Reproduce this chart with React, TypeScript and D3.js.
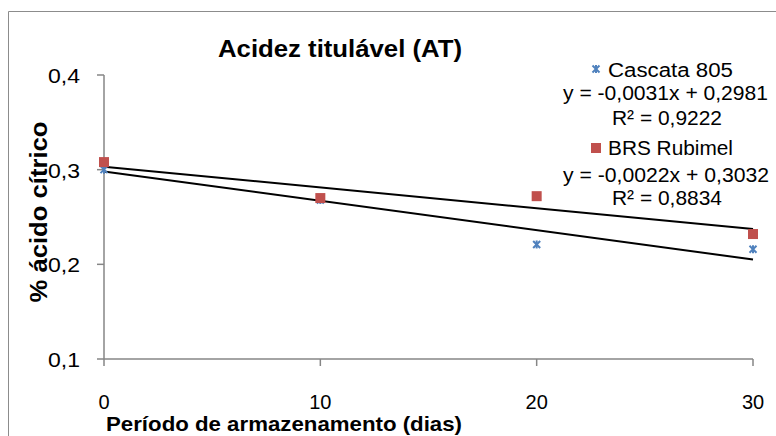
import React from 'react';
import * as d3 from 'd3';

// storage days and measured acidity (% citric acid)
const days = [0, 10, 20, 30];
const cascata = [0.300, 0.268, 0.221, 0.216];
const rubimel = [0.308, 0.270, 0.272, 0.232];

// linear trendlines as printed in the legend
const trendSlopes = [-0.0031, -0.0022];
const trendIntercepts = [0.2981, 0.3032];
const seriesNames = ['Cascata 805', 'BRS Rubimel'];
const equations = ['y = -0,0031x + 0,2981', 'y = -0,0022x + 0,3032'];
const r2Labels = ['R² = 0,9222', 'R² = 0,8834'];

const yTicks = [0.1, 0.2, 0.3, 0.4];
const xTicks = [0, 10, 20, 30];

const W = 776;
const H = 436;
const FONT = '"Liberation Sans", Arial, sans-serif';
const AXIS = '#868686';
const BLUE = '#4F81BD';
const RED = '#C0504D';

const x = d3.scaleLinear().domain([0, 30]).range([104, 753]);
const y = d3.scaleLinear().domain([0.1, 0.4]).range([359, 75]);
const fmt = (v: number) => String(v).replace('.', ',');

const Star = ({ cx, cy }: { cx: number; cy: number }) => (
  <g stroke={BLUE} strokeWidth={2}>
    <line x1={cx - 3.5} y1={cy - 3.5} x2={cx + 3.5} y2={cy + 3.5} />
    <line x1={cx - 3.5} y1={cy + 3.5} x2={cx + 3.5} y2={cy - 3.5} />
    <line x1={cx} y1={cy - 4} x2={cx} y2={cy + 4} />
  </g>
);

const Square = ({ cx, cy }: { cx: number; cy: number }) => (
  <rect x={cx - 5} y={cy - 5} width={10} height={10} fill={RED} />
);

export default function App() {
  const trend = (i: number) =>
    d3.line<number>()
      .x((d) => x(d))
      .y((d) => y(trendSlopes[i] * d + trendIntercepts[i]))([0, 30]) || '';

  return (
    <svg width={W} height={H} style={{ position: 'absolute', left: 0, top: 0 }} fontFamily={FONT}>
      <rect x={0} y={0} width={W} height={H} fill="#fff" />
      {/* chart area border, cropped on the right and bottom */}
      <path d={`M8.5,${H} V11.5 H${W}`} fill="none" stroke="#8c8c8c" strokeWidth={1} />

      <text x={340} y={57} textAnchor="middle" fontSize={24} fontWeight="bold" textLength={244} lengthAdjust="spacingAndGlyphs">
        Acidez titulável (AT)
      </text>

      {/* axes */}
      <g stroke={AXIS} strokeWidth={1.5} fill="none">
        <line x1={x(0)} y1={y(0.4)} x2={x(0)} y2={y(0.1)} />
        <line x1={x(0)} y1={y(0.1)} x2={x(30)} y2={y(0.1)} />
        {yTicks.map((t) => (
          <line key={t} x1={x(0) - 7} y1={y(t)} x2={x(0)} y2={y(t)} />
        ))}
        {xTicks.map((t) => (
          <line key={t} x1={x(t)} y1={y(0.1)} x2={x(t)} y2={y(0.1) + 7} />
        ))}
      </g>
      {yTicks.map((t) => (
        <text key={t} x={80} y={y(t) + 8} textAnchor="end" fontSize={20} textLength={32} lengthAdjust="spacingAndGlyphs">
          {fmt(t)}
        </text>
      ))}
      {xTicks.map((t) => (
        <text key={t} x={x(t)} y={409} textAnchor="middle" fontSize={20}>
          {t}
        </text>
      ))}

      <text x={284} y={431} textAnchor="middle" fontSize={20.5} fontWeight="bold" textLength={356} lengthAdjust="spacingAndGlyphs">
        Período de armazenamento (dias)
      </text>
      <text transform="translate(47,212) rotate(-90)" textAnchor="middle" fontSize={24} fontWeight="bold" textLength={181} lengthAdjust="spacingAndGlyphs">
        % ácido cítrico
      </text>

      {/* trendlines */}
      {[0, 1].map((i) => (
        <path key={i} d={trend(i)} fill="none" stroke="#000" strokeWidth={2} />
      ))}

      {/* points */}
      {days.map((d, i) => (
        <Star key={`c${d}`} cx={x(d)} cy={y(cascata[i])} />
      ))}
      {days.map((d, i) => (
        <Square key={`r${d}`} cx={x(d)} cy={y(rubimel[i])} />
      ))}

      {/* legend */}
      <Star cx={596} cy={69} />
      <text x={608} y={77} fontSize={20} textLength={125} lengthAdjust="spacingAndGlyphs">{seriesNames[0]}</text>
      <text x={563} y={100} fontSize={20} textLength={205} lengthAdjust="spacingAndGlyphs">{equations[0]}</text>
      <text x={612} y={125} fontSize={20} textLength={110} lengthAdjust="spacingAndGlyphs">{r2Labels[0]}</text>
      <Square cx={596} cy={148} />
      <text x={608} y={155} fontSize={20} textLength={125} lengthAdjust="spacingAndGlyphs">{seriesNames[1]}</text>
      <text x={563} y={182} fontSize={20} textLength={206} lengthAdjust="spacingAndGlyphs">{equations[1]}</text>
      <text x={612} y={205} fontSize={20} textLength={110} lengthAdjust="spacingAndGlyphs">{r2Labels[1]}</text>
    </svg>
  );
}
